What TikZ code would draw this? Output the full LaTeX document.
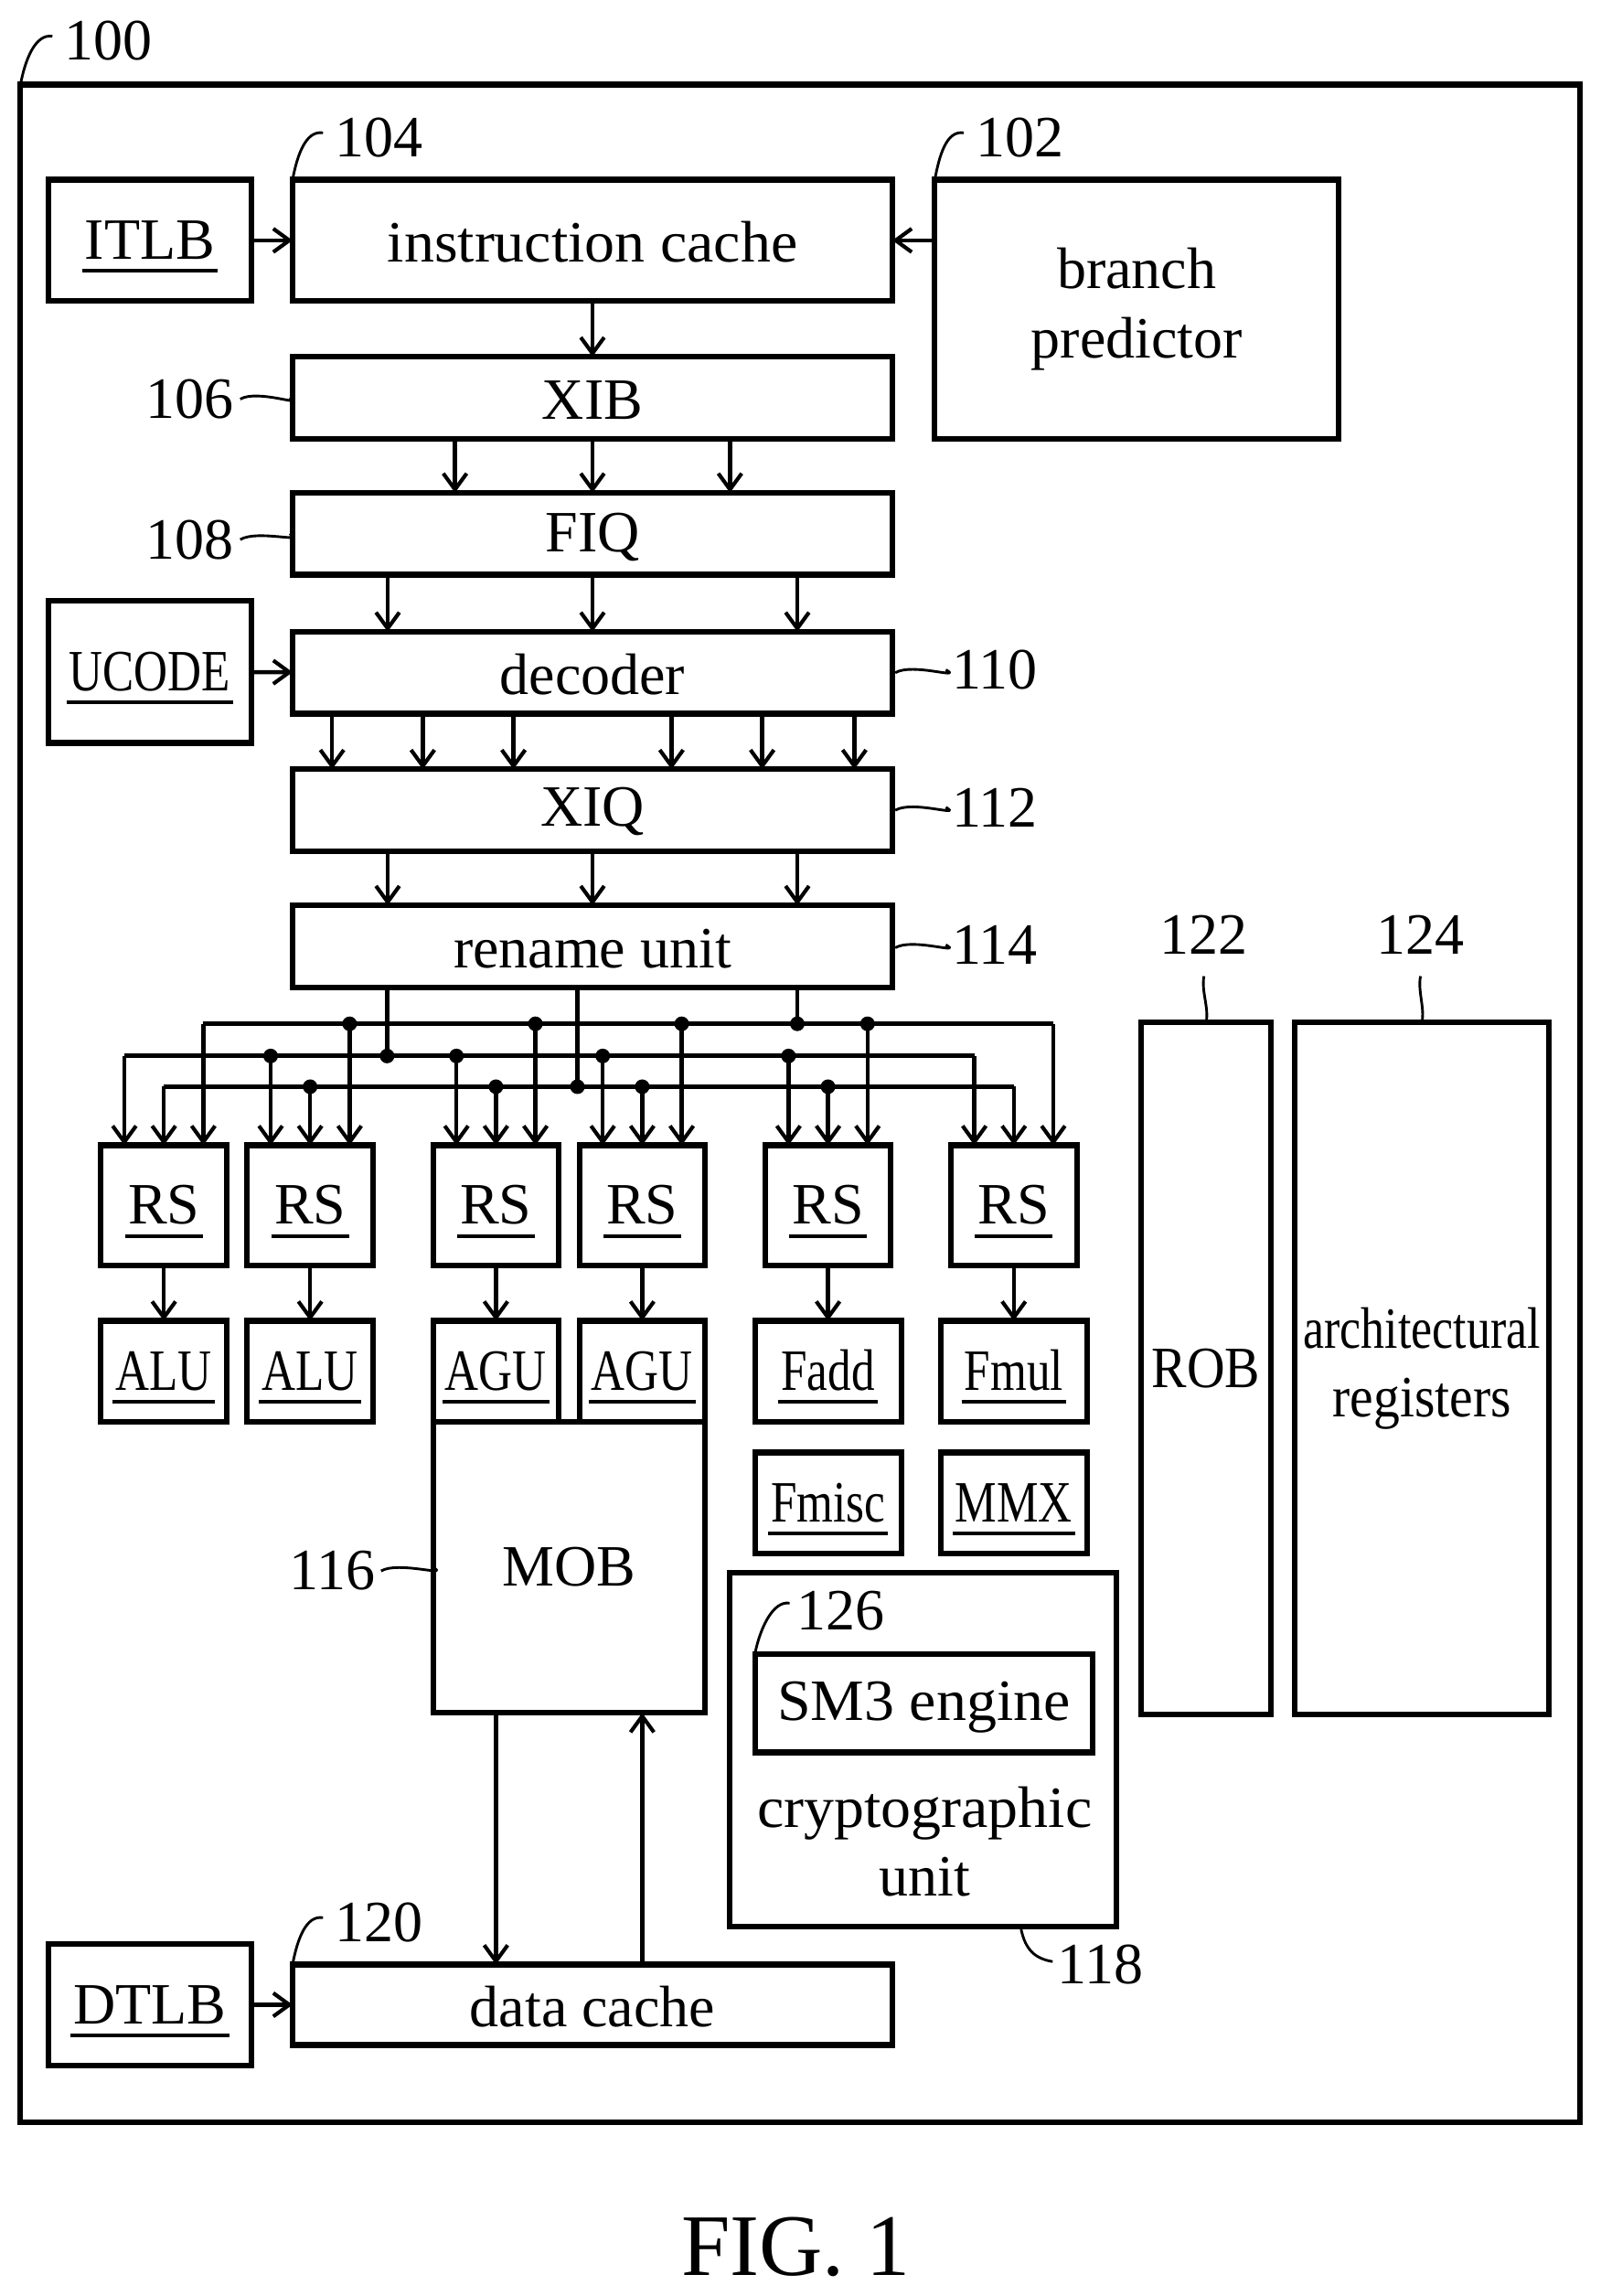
\documentclass[tikz,border=0pt]{standalone}
\usepackage{fontspec}
\setmainfont{Liberation Serif}
\usetikzlibrary{arrows.meta}
\newsavebox\ulb
\newcommand\ulbl[1]{\sbox\ulb{#1}\smash{\rlap{\kern-2pt\raisebox{-9.25pt}{\rule{\dimexpr\wd\ulb+4pt}{2.5pt}}}}\usebox\ulb}
\newcommand\nar[2][0.8]{\scalebox{#1}[1]{#2}}
\tikzset{
  box/.style={draw=black,line width=3.8pt,inner sep=0pt,outer sep=0pt,align=center,line join=miter},
  tb/.style={text height=26pt,text depth=0pt},
  tbb/.style={text height=30pt,text depth=0pt},
  wire/.style={draw=black,line width=2.8pt},
  arr/.style={wire,-{Straight Barb[length=11pt,width=16pt,line width=2.6pt]}},
  bus/.style={draw=black,line width=3.2pt,line join=miter},
  dot/.style={circle,fill=black,inner sep=0pt,minimum size=10pt},
  lead/.style={draw=black,line width=1.8pt},
  num/.style={inner sep=0pt},
}
% name, x1, y1, x2, y2, options, text
\newcommand\bx[7][]{\node[box,#1,minimum width={(#4-#2)*1pt},minimum height={(#5-#3)*1pt}] (#6) at ({(#2+#4)/2},{(#3+#5)/2}) {#7};}
\begin{document}
\begin{tikzpicture}[x=1pt,y=-1pt,font=\fontsize{40}{47}\selectfont]
\useasboundingbox (0,0) rectangle (1094,1569.4);
\begin{scope}[yshift=-0.8pt]
% outer
\node[box,minimum width=1066pt,minimum height=1393pt] (outer) at (547,753.5) {};
\bx[tb]{33}{122}{172}{205}{itlb}{\ulbl{ITLB}}
\bx[tbb]{200}{122}{610}{205}{icache}{\nar[1.03]{instruction cache}}
\bx{639}{122}{915}{299}{bp}{branch\\predictor}
\bx[tbb]{200}{243}{610}{299}{xib}{XIB}
\bx[tb,text height=25pt]{200}{336}{610}{392}{fiq}{FIQ}
\bx[tb]{33}{410}{172}{507}{ucode}{\ulbl{\nar{UCODE}}}
\bx[tbb]{200}{431}{610}{487}{decoder}{decoder}
\bx[tb,text height=22pt]{200}{525}{610}{581}{xiq}{XIQ}
\bx[tbb]{200}{618}{610}{674}{rename}{rename unit}
\bx[tb]{780}{698}{869}{1171}{rob}{\nar[0.9]{ROB}}
\bx{885}{698}{1059}{1171}{arch}{\nar[0.81]{architectural}\\\nar[0.9]{registers}}
\bx[tb]{69}{782}{155}{864}{rs1}{\ulbl{RS}}
\bx[tb]{169}{782}{255}{864}{rs2}{\ulbl{RS}}
\bx[tb]{296}{782}{382}{864}{rs3}{\ulbl{RS}}
\bx[tb]{396}{782}{482}{864}{rs4}{\ulbl{RS}}
\bx[tb]{523}{782}{609}{864}{rs5}{\ulbl{RS}}
\bx[tb]{650}{782}{736}{864}{rs6}{\ulbl{RS}}
\bx[tb]{69}{902}{155}{971}{alu1}{\ulbl{\nar{ALU}}}
\bx[tb]{169}{902}{255}{971}{alu2}{\ulbl{\nar{ALU}}}
\bx[tb]{296}{902}{382}{971}{agu1}{\ulbl{\nar{AGU}}}
\bx[tb]{396}{902}{482}{971}{agu2}{\ulbl{\nar{AGU}}}
\bx[tb]{296}{971}{482}{1170}{mob}{MOB}
\bx[tb]{516}{902}{616}{971}{fadd}{\ulbl{\nar{Fadd}}}
\bx[tb]{643}{902}{743}{971}{fmul}{\ulbl{\nar{Fmul}}}
\bx[tb]{516}{992}{616}{1061}{fmisc}{\ulbl{\nar{Fmisc}}}
\bx[tb]{643}{992}{743}{1061}{mmx}{\ulbl{\nar{MMX}}}
\bx{499}{1074}{763}{1316}{crypto}{}
\bx[tb,text height=23pt]{516}{1130}{747}{1197}{sm3}{\nar[1.03]{SM3 engine}}
\node[num,align=center] (cryptotext) at (632,1258) {\nar[1.03]{cryptographic}\\unit};
\bx[tb]{33}{1328}{172}{1411}{dtlb}{\ulbl{DTLB}}
\bx[tbb]{200}{1342}{610}{1397}{dcache}{data cache}
% reference numbers
\node[num] (n100) at (74,27) {100};
\node[num] (n104) at (259,93) {104};
\node[num] (n102) at (697,93) {102};
\node[num] (n106) at (130,272) {106};
\node[num] (n108) at (130,368) {108};
\node[num] (n110) at (680,457) {110};
\node[num] (n112) at (680,551) {112};
\node[num] (n114) at (680,645) {114};
\node[num] (n122) at (823,638) {122};
\node[num] (n124) at (971,638) {124};
\node[num] (n116) at (227,1073) {116};
\node[num] (n126) at (575,1100) {126};
\node[num] (n118) at (752,1342) {118};
\node[num] (n120) at (259,1313) {120};
\node[num,font=\fontsize{60}{70}\selectfont] (fig) at (544,1535) {FIG. 1};
% leaders
\draw[lead] (outer.north west) .. controls +(3,-16) and +(-12,-2) .. ([xshift=-8pt,yshift=3pt]n100.west);
\draw[lead] (icache.north west) .. controls +(3,-16) and +(-12,-2) .. ([xshift=-8pt,yshift=3pt]n104.west);
\draw[lead] (bp.north west) .. controls +(3,-16) and +(-12,-2) .. ([xshift=-8pt,yshift=3pt]n102.west);
\draw[lead] (dcache.north west) .. controls +(3,-16) and +(-12,-2) .. ([xshift=-8pt,yshift=3pt]n120.west);
\draw[lead] (sm3.north west) .. controls +(3,-16) and +(-12,-2) .. ([xshift=-5pt,yshift=5pt]n126.west);
\draw[lead] (crypto.south) ++(67,2) coordinate (c118) .. controls +(3,14) and +(-12,-2) .. ([xshift=-3pt,yshift=2pt]n118.west);
\draw[lead] ([xshift=4pt]n106.east) .. controls +(12,-7) and +(12,7) .. ([xshift=-2pt]xib.west);
\draw[lead] ([xshift=4pt]n108.east) .. controls +(12,-7) and +(12,7) .. ([xshift=-2pt]fiq.west);
\draw[lead] ([xshift=2pt]decoder.east) .. controls +(12,-7) and +(12,7) .. ([xshift=-4pt]n110.west);
\draw[lead] ([xshift=2pt]xiq.east) .. controls +(12,-7) and +(12,7) .. ([xshift=-4pt]n112.west);
\draw[lead] ([xshift=2pt,yshift=-1pt]rename.east) .. controls +(12,-7) and +(12,7) .. ([xshift=-4pt]n114.west);
\draw[lead] ([xshift=4pt]n116.east) .. controls +(12,-7) and +(12,7) .. (mob.west);
\draw[lead] ([yshift=-15pt]n122.south) .. controls +(-2,10) and +(2,-10) .. (rob.north);
\draw[lead] ([yshift=-15pt]n124.south) .. controls +(-2,10) and +(2,-10) .. (arch.north);
% top connectors
\draw[arr] (itlb) -- (icache);
\draw[arr] (bp.west |- icache.east) -- (icache.east);
\draw[arr] (icache) -- (xib);
\foreach \d in {-94,0,94} \draw[arr] ([xshift=\d pt]xib.south) -- ([xshift=\d pt]fiq.north);
\foreach \d in {-140,0,140} \draw[arr] ([xshift=\d pt]fiq.south) -- ([xshift=\d pt]decoder.north);
\draw[arr] (ucode) -- (decoder);
\foreach \d in {-178,-116,-54,54,116,179} \draw[arr] ([xshift=\d pt]decoder.south) -- ([xshift=\d pt]xiq.north);
\foreach \d in {-140,0,140} \draw[arr] ([xshift=\d pt]xiq.south) -- ([xshift=\d pt]rename.north);
% buses
\coordinate (busC) at (0,699);
\coordinate (busA) at (0,721);
\coordinate (busB) at (0,742);
\foreach \r in {rs1,rs2,rs3,rs4,rs5,rs6}{
  \coordinate (\r-a) at ([xshift=-27pt]\r.north |- busA);
  \coordinate (\r-b) at (\r.north |- busB);
  \coordinate (\r-c) at ([xshift=27pt]\r.north |- busC);
  \draw[arr] (\r-a) -- ([xshift=-27pt]\r.north);
  \draw[arr] (\r-b) -- (\r.north);
  \draw[arr] (\r-c) -- ([xshift=27pt]\r.north);
}
\draw[bus] (rs1-c) -- (rs6-c);
\draw[bus] (rs1-a) -- (rs6-a);
\draw[bus] (rs1-b) -- (rs6-b);
\foreach \r in {rs2,rs3,rs4,rs5}{
  \node[dot] (\r-da) at (\r-a) {};
  \node[dot] (\r-db) at (\r-b) {};
  \node[dot] (\r-dc) at (\r-c) {};
}
\coordinate (rc) at ([xshift=-140.4pt]rename.south |- busA);
\node[dot] (ra) at (rc) {};
\coordinate (rc2) at (rename.south |- busB);
\node[dot] (rb) at ([xshift=-10.3pt]rc2) {};
\coordinate (rc3) at ([xshift=140pt]rename.south |- busC);
\node[dot] (rcc) at (rc3) {};
\draw[wire] ([xshift=-140.4pt]rename.south) -- (ra.center);
\draw[wire] ([xshift=-10.3pt]rename.south) -- (rb.center);
\draw[wire] ([xshift=140pt]rename.south) -- (rcc.center);
% lower connectors
\foreach \a/\b in {rs1/alu1,rs2/alu2,rs3/agu1,rs4/agu2,rs5/fadd,rs6/fmul} \draw[arr] (\a) -- (\b);
\draw[arr] ([xshift=-50pt]mob.south) -- ([xshift=-50pt]mob.south |- dcache.north);
\draw[arr] ([xshift=50pt]mob.south |- dcache.north) -- ([xshift=50pt]mob.south);
\draw[arr] (dtlb.east |- dcache.west) -- (dcache.west);
\end{scope}
\end{tikzpicture}
\end{document}
